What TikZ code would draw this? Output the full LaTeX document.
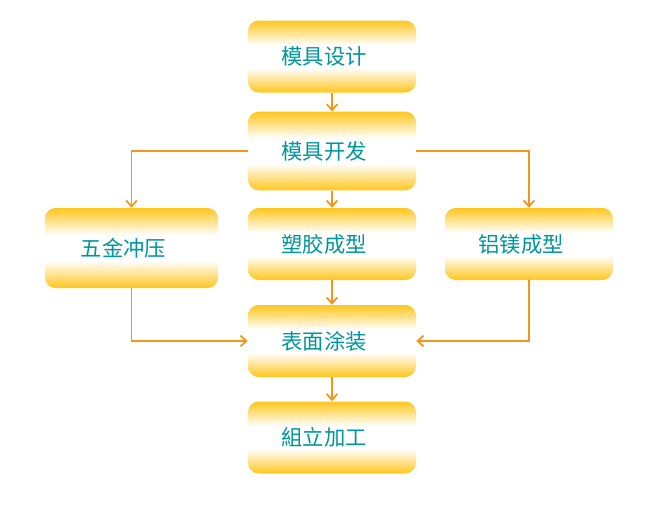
\documentclass[tikz,border=0pt]{standalone}
\usepackage{fontspec}
\usepackage{tikz}
\usetikzlibrary{arrows.meta, positioning}
\newfontfamily\cjk{Noto Sans CJK SC}
\definecolor{BoxGold}{RGB}{255, 198, 30}
\definecolor{LineOrange}{RGB}{245, 150, 25}
\definecolor{TextTeal}{RGB}{0, 150, 155}
\pgfdeclareverticalshading{goldband}{100bp}{color(0bp)=(BoxGold); color(25bp)=(BoxGold);
    color(42bp)=(white); color(58bp)=(white); color(75bp)=(BoxGold); color(100bp)=(BoxGold)}

\begin{document}
\begin{tikzpicture}[
        x=0.75pt, y=-0.75pt,
        >={Straight Barb[length=4.5pt, width=8pt]},
        step box/.style={rounded corners=8pt, shading=goldband,
            minimum width=126pt, minimum height=54pt, inner sep=0pt,
            font=\cjk\fontsize{16}{19}\selectfont, text=TextTeal,
            execute at end node={\hspace{12pt}}},
        tall box/.style={step box, minimum width=130pt, minimum height=60pt},
        flow/.style={->, line width=1.3pt, LineOrange}
    ]

    \useasboundingbox (0,0) rectangle (658,512);

    % Kolumna srodkowa
    \node[step box] (design) at (332, 56.5) {模具设计};
    \node[step box, minimum height=59pt] (dev) at (332, 151) {模具开发};
    \node[step box] (plastic) at (332, 244) {塑胶成型};
    \node[step box] (coat) at (332, 341) {表面涂装};
    \node[step box] (assy) at (332, 437.5) {組立加工};

    % Boczne galezie
    \node[tall box] (stamp) at (131.5, 248) {五金冲压};
    \node[step box] (almg) at (529, 244) {铝镁成型};

    % Strzalki pionowe
    \draw[flow] (design.south) -- (dev.north);
    \draw[flow] (dev.south) -- (plastic.north);
    \draw[flow] (plastic.south) -- (coat.north);
    \draw[flow] (coat.south) -- (assy.north);

    % Rozgalezienia z modulu
    \draw[flow] (dev.west) -| (stamp.north);
    \draw[flow] (dev.east) -| (almg.north);

    % Powrot do powlok
    \draw[flow] (stamp.south) |- (coat.west);
    \draw[flow] (almg.south) |- (coat.east);

\end{tikzpicture}
\end{document}
